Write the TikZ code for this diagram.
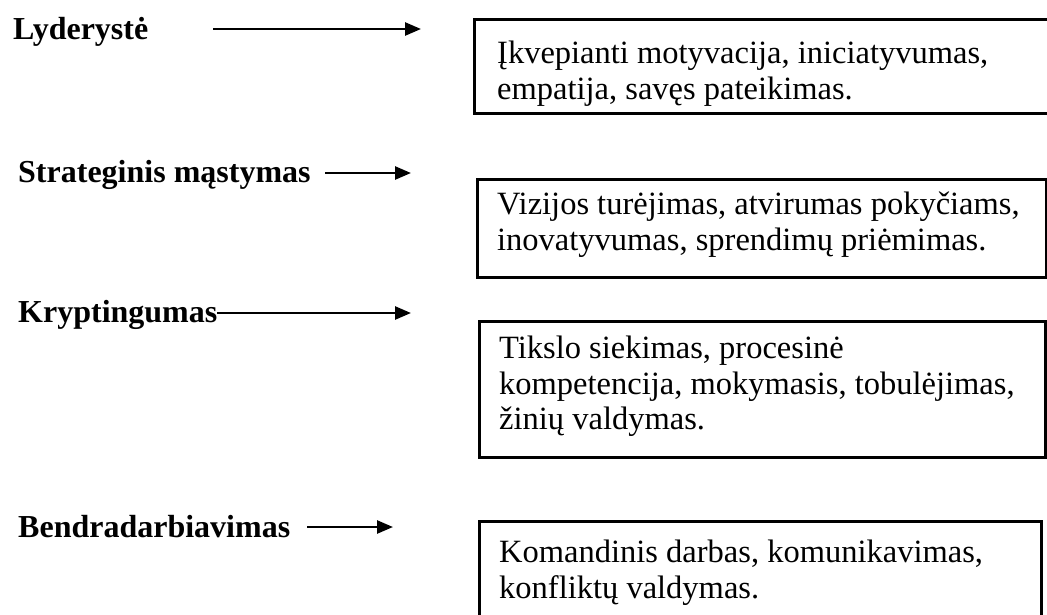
\documentclass[tikz,border=0pt]{standalone}
\usepackage{fontspec}
\setmainfont{Liberation Serif}
\usetikzlibrary{arrows.meta}
\begin{document}
\begin{tikzpicture}[x=1pt,y=-1pt,
  headword/.style={font=\fontsize{32}{36}\selectfont\bfseries, inner sep=0pt, anchor=base west},
  boxframe/.style={draw, line width=2.8pt, anchor=north west, inner sep=0pt},
  bodytext/.style={font=\fontsize{32.5}{35.5}\selectfont, align=left, inner sep=0pt,
    anchor=north west, execute at begin node=\strut},
  link/.style={line width=2.6pt, -{Triangle[length=16pt,width=13pt]}}]
\useasboundingbox (0,0) rectangle (1047,614);
\clip (0,0) rectangle (1047,614);

% competence groups on the left
\node[headword] (l1) at (13,39)  {Lyderystė};
\node[headword] (l2) at (18,182) {Strateginis mąstymas};
\node[headword] (l3) at (18,322) {Kryptingumas};
\node[headword] (l4) at (18,537) {Bendradarbiavimas};

% arrow ends
\coordinate (s1) at (213,29);  \coordinate (e1) at (421,29);
\coordinate (s2) at (325,173); \coordinate (e2) at (411,173);
\coordinate (s3) at (217,313); \coordinate (e3) at (411,313);
\coordinate (s4) at (307,527); \coordinate (e4) at (393,527);

\draw[link] (s1) -- (e1);
\draw[link] (s2) -- (e2);
\draw[link] (s3) -- (e3);
\draw[link] (s4) -- (e4);

% description boxes
\node[boxframe, minimum width=590pt, minimum height=94pt] (b1) at (473,18)  {};
\node[boxframe, minimum width=569pt, minimum height=98pt] (b2) at (476,178) {};
\node[boxframe, minimum width=566pt, minimum height=136pt] (b3) at (478,320) {};
\node[boxframe, minimum width=562pt, minimum height=110pt] (b4) at (478,520) {};

\node[bodytext] (t1) at (497,41)  {Įkvepianti motyvacija, iniciatyvumas,\\empatija, savęs pateikimas.};
\node[bodytext] (t2) at (497,192) {Vizijos turėjimas, atvirumas pokyčiams,\\inovatyvumas, sprendimų priėmimas.};
\node[bodytext] (t3) at (499,336) {Tikslo siekimas, procesinė\\kompetencija, mokymasis, tobulėjimas,\\žinių valdymas.};
\node[bodytext] (t4) at (499,540) {Komandinis darbas, komunikavimas,\\konfliktų valdymas.};
\end{tikzpicture}
\end{document}
